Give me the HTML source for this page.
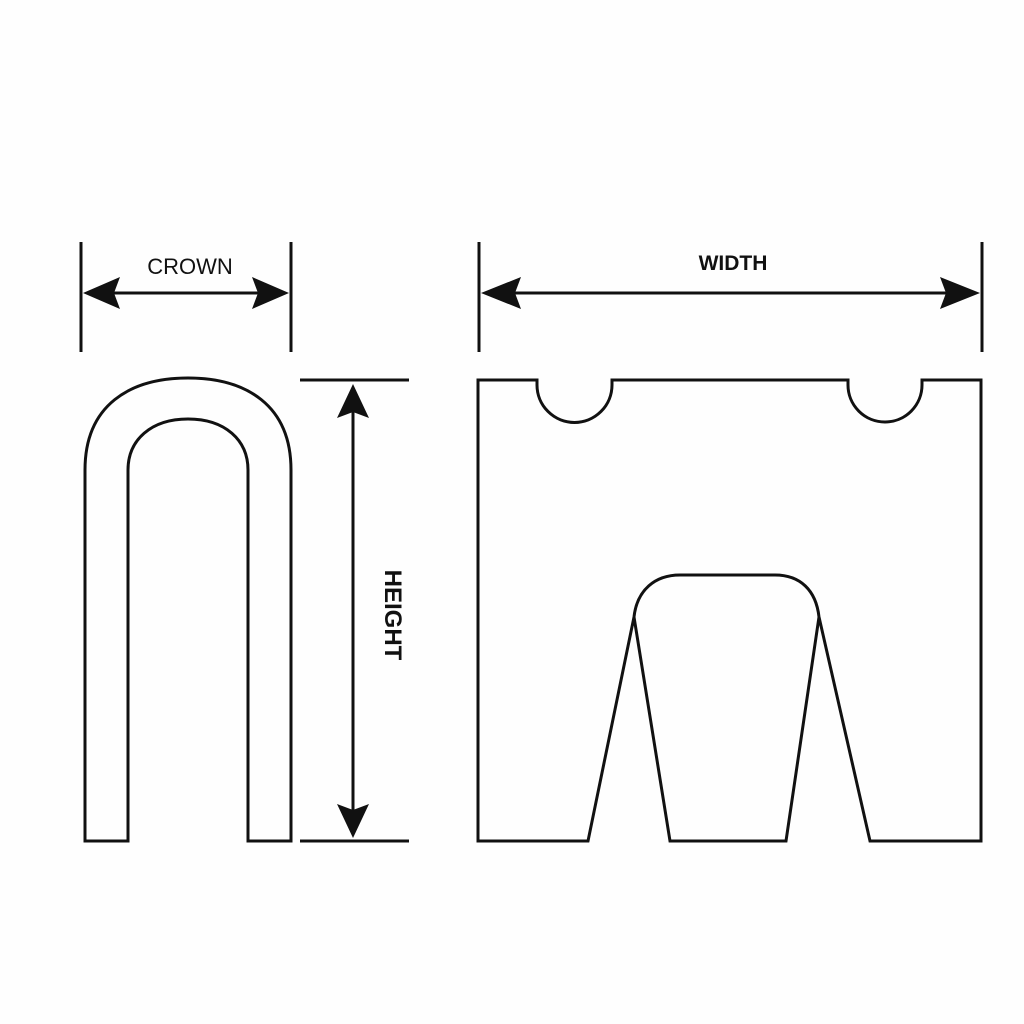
<!DOCTYPE html>
<html><head><style>html,body{margin:0;background:#fff}svg{display:block}</style></head><body>
<svg width="1024" height="1024" viewBox="0 0 1024 1024" xmlns="http://www.w3.org/2000/svg">
<rect width="1024" height="1024" fill="#fefefe"/>
<g stroke="#111" stroke-width="3" fill="none">
<path d="M85,841 V470 C85,405 130,378 188,378 C246,378 291,405 291,470 V841 H248 V470 C248,440 225,419 188,419 C151,419 128,440 128,470 V841 Z"/>
<line x1="81" y1="242" x2="81" y2="352"/>
<line x1="291" y1="242" x2="291" y2="352"/>
<line x1="100" y1="293" x2="272" y2="293"/>
<line x1="479" y1="242" x2="479" y2="352"/>
<line x1="982" y1="242" x2="982" y2="352"/>
<line x1="500" y1="293" x2="960" y2="293"/>
<line x1="300" y1="380" x2="409" y2="380"/>
<line x1="300" y1="841" x2="409" y2="841"/>
<line x1="353" y1="405" x2="353" y2="815"/>
<path d="M478,380 H537 V385 A37,37 0 0 0 612,385 V380 H848 V385 A37,37 0 0 0 922,385 V380 H981 V841 H870 L819,617 L786,841 H670 L634,617 L588,841 H478 Z"/>
<path d="M634,617 C637,590 655,575 680,575 H775 C800,575 816,590 819,617"/>
</g>
<g fill="#111">
<polygon points="83,293 120,277 114,293 120,309"/>
<polygon points="289,293 252,277 258,293 252,309"/>
<polygon points="481,293 521,277 515,293 521,309"/>
<polygon points="980,293 940,277 946,293 940,309"/>
<polygon points="353,384 337,418 353,412 369,418"/>
<polygon points="353,838 337,804 353,810 369,804"/>
</g>
<text x="190" y="274" font-family="Liberation Sans, sans-serif" font-size="22" text-anchor="middle" fill="#111">CROWN</text>
<text x="733" y="270" font-family="Liberation Sans, sans-serif" font-size="21" font-weight="bold" text-anchor="middle" fill="#111">WIDTH</text>
<text transform="translate(385,615) rotate(90)" font-family="Liberation Sans, sans-serif" font-size="24" font-weight="bold" text-anchor="middle" fill="#111">HEIGHT</text>
</svg>
</body></html>
